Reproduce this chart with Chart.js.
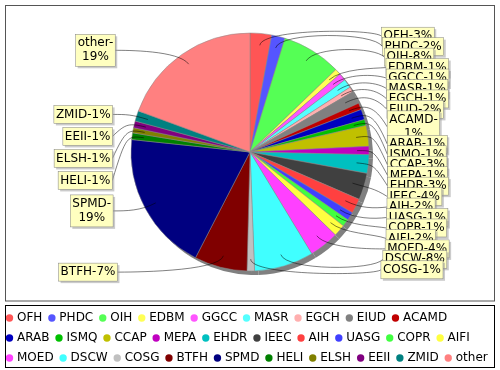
<!DOCTYPE html>
<html><head><meta charset="utf-8">
<script src="https://cdn.jsdelivr.net/npm/chart.js@4/dist/chart.umd.min.js"></script>
<style>
html,body{margin:0;padding:0;overflow:hidden;background:#fff;width:500px;height:370px}
#wrap{position:relative;width:500px;height:374px}
canvas{display:block}
</style>
</head><body><div id="wrap"><canvas id="c" width="500" height="374"></canvas></div>
<script>
// ---- data ----
const categories = ['OFH','PHDC','OIH','EDBM','GGCC','MASR','EGCH','EIUD','ACAMD','ARAB','ISMQ','CCAP','MEPA','EHDR','IEEC','AIH','UASG','COPR','AIFI','MOED','DSCW','COSG','BTFH','SPMD','HELI','ELSH','EEII','ZMID','other'];
const values = [2.9,1.8,8.0,0.8,1.0,1.2,0.7,1.7,0.9,1.4,0.8,2.8,1.1,2.5,3.6,2.0,1.1,1.0,1.6,4.0,8.0,1.0,7.1,18.9,0.9,0.7,0.9,1.4,19.2];

// ---- styles ----
const palette = ['#FF5555','#5555FF','#55FF55','#FFFF55','#FF55FF','#55FFFF','#FFAFAF','#808080','#C00000','#0000C0','#00C000','#C0C000','#C000C0','#00C0C0','#404040','#FF4040','#4040FF','#40FF40','#FFFF40','#FF40FF','#40FFFF','#C0C0C0','#800000','#000080','#008000','#808000','#800080','#008080','#FF8080'];
const FONT = '"DejaVu Sans", "Liberation Sans", sans-serif';
const LABEL_MAXW = 61.6;

function wrapText(ctx, text, maxW) {
  if (ctx.measureText(text).width <= maxW) return [text];
  const k = text.indexOf('-');
  if (k < 0) return [text];
  return [text.slice(0, k + 1), text.slice(k + 1)];
}

function distribute(recs, minY, height) {
  recs.sort((p, q) => p.baseY - q.baseY);
  const minGap = 4;
  const overlap = () => {
    for (let k = 1; k < recs.length; k++) {
      if (recs[k].alloc - recs[k].h / 2 < recs[k - 1].alloc + recs[k - 1].h / 2) return true;
    }
    return false;
  };
  if (overlap()) {
    for (let k = 0; k < recs.length - 1; k++) {
      const r0 = recs[k], r1 = recs[k + 1];
      if (r1.alloc - r1.h / 2 < r0.alloc + r0.h / 2) {
        r1.alloc = Math.min(minY + height - r1.h / 2, r0.alloc + r0.h / 2 + minGap + r1.h / 2);
      }
    }
  }
  if (overlap()) {
    for (let k = recs.length - 1; k > 0; k--) {
      const r0 = recs[k], r1 = recs[k - 1];
      if (r1.alloc + r1.h / 2 > r0.alloc - r0.h / 2) {
        r1.alloc = Math.max(minY + r1.h / 2, r0.alloc - r0.h / 2 - minGap - r1.h / 2);
      }
    }
  }
  if (overlap()) {
    let sum = 0;
    recs.forEach(r => sum += r.h);
    let gap = height - sum;
    if (recs.length > 1) gap /= (recs.length - 1);
    let yy = minY;
    recs.forEach(r => { yy += r.h / 2; r.alloc = yy; yy += r.h / 2 + gap; });
  }
}

const decoPlugin = {
  id: 'deco',
  beforeDatasetsDraw(chart) {
    const ctx = chart.ctx;
    const legTop = chart.legend.top;
    ctx.save();
    // plot outline
    ctx.strokeStyle = '#555';
    ctx.lineWidth = 1;
    ctx.strokeRect(5.5, 5.5, chart.width - 11, legTop - 3 - 5.5);
    // legend frame
    ctx.strokeStyle = '#000';
    ctx.strokeRect(5.5, legTop + 1.5, chart.width - 11, 62);
    // pie shadow
    const meta = chart.getDatasetMeta(0);
    ctx.fillStyle = '#808080';
    meta.data.forEach(arc => {
      const p = arc.getProps(['x', 'y', 'startAngle', 'endAngle', 'outerRadius'], true);
      ctx.beginPath();
      ctx.moveTo(p.x + 4, p.y + 4);
      ctx.arc(p.x + 4, p.y + 4, p.outerRadius, p.startAngle, p.endAngle);
      ctx.closePath();
      ctx.fill();
    });
    ctx.restore();
  },
  afterDatasetsDraw(chart) {
    const ctx = chart.ctx;
    const meta = chart.getDatasetMeta(0);
    const total = values.reduce((a, b) => a + b, 0);
    const plotTop = 5, plotBottom = chart.legend.top - 3;
    const hh = plotBottom - plotTop;
    const gapY = hh * 0.075;
    const minY = plotTop + gapY, height = hh - 2 * gapY;
    const lGap = (chart.width - 10) * 0.028;
    ctx.save();
    ctx.font = '12px ' + FONT;
    const left = [], right = [];
    meta.data.forEach((arc, i) => {
      const p = arc.getProps(['x', 'y', 'startAngle', 'endAngle', 'outerRadius'], true);
      const a = (p.startAngle + p.endAngle) / 2;
      const text = categories[i] + '-' + Math.round(values[i] / total * 100) + '%';
      const lines = wrapText(ctx, text, LABEL_MAXW);
      const w = Math.max(...lines.map(l => ctx.measureText(l).width)) + 4;
      const h = lines.length * 14 + 4;
      const rLink = p.outerRadius + 5;
      const baseY = p.y + Math.sin(a) * rLink;
      const rec = { a, lines, w, h, baseY, alloc: baseY, cx: p.x, cy: p.y, R: p.outerRadius, rLink };
      (Math.cos(a) < 0 ? left : right).push(rec);
    });
    distribute(left, minY, height);
    distribute(right, minY, height);

    function drawRec(r, isRight) {
      const anchorX = isRight ? r.cx + r.rLink : r.cx - r.rLink;
      const gap = lGap / 2 + lGap / 2 * (isRight ? Math.cos(r.a) : -Math.cos(r.a));
      const targetX = isRight ? anchorX + gap : anchorX - gap;
      const targetY = r.alloc;
      const elbowX = r.cx + Math.cos(r.a) * r.rLink;
      const elbowY = r.cy + Math.sin(r.a) * r.rLink;
      const linkX = r.cx + Math.cos(r.a) * r.R * 0.9;
      const linkY = r.cy + Math.sin(r.a) * r.R * 0.9;
      ctx.strokeStyle = '#000';
      ctx.lineWidth = 0.5;
      ctx.beginPath();
      ctx.moveTo(targetX, targetY);
      ctx.bezierCurveTo(anchorX, elbowY, elbowX, elbowY, linkX, linkY);
      ctx.stroke();
      const bx = isRight ? targetX : targetX - r.w;
      const by = targetY - r.h / 2;
      ctx.fillStyle = 'rgba(151,151,151,0.5)';
      ctx.fillRect(bx + 2, by + 2, r.w, r.h);
      ctx.fillStyle = '#FFFFC0';
      ctx.fillRect(bx, by, r.w, r.h);
      ctx.strokeStyle = '#808080';
      ctx.lineWidth = 0.5;
      ctx.strokeRect(bx, by, r.w, r.h);
      ctx.fillStyle = '#000';
      ctx.textAlign = 'center';
      ctx.textBaseline = 'middle';
      r.lines.forEach((l, k) => {
        ctx.fillText(l, bx + r.w / 2, by + 2 + 7 + k * 14);
      });
    }
    left.forEach(r => drawRec(r, false));
    right.forEach(r => drawRec(r, true));
    ctx.restore();
  }
};

new Chart(document.getElementById('c'), {
  type: 'pie',
  data: {
    labels: categories,
    datasets: [{
      data: values,
      backgroundColor: palette,
      borderColor: '#8a8a8a',
      borderWidth: 0.5
    }]
  },
  options: {
    responsive: false,
    devicePixelRatio: 1,
    animation: false,
    events: [],
    radius: 119,
    layout: { padding: 0 },
    plugins: {
      tooltip: { enabled: false },
      legend: {
        position: 'bottom',
        align: 'start',
        labels: {
          font: { family: FONT, size: 12 },
          color: '#000',
          usePointStyle: true,
          boxWidth: 3,
          boxHeight: 5.2,
          padding: 8,
          generateLabels() {
            return categories.map((c, i) => ({
              text: c, fillStyle: palette[i], strokeStyle: palette[i], lineWidth: 0,
              pointStyle: 'circle', hidden: false, index: i, fontColor: '#000'
            }));
          }
        }
      }
    }
  },
  plugins: [decoPlugin]
});
</script>
</body></html>
